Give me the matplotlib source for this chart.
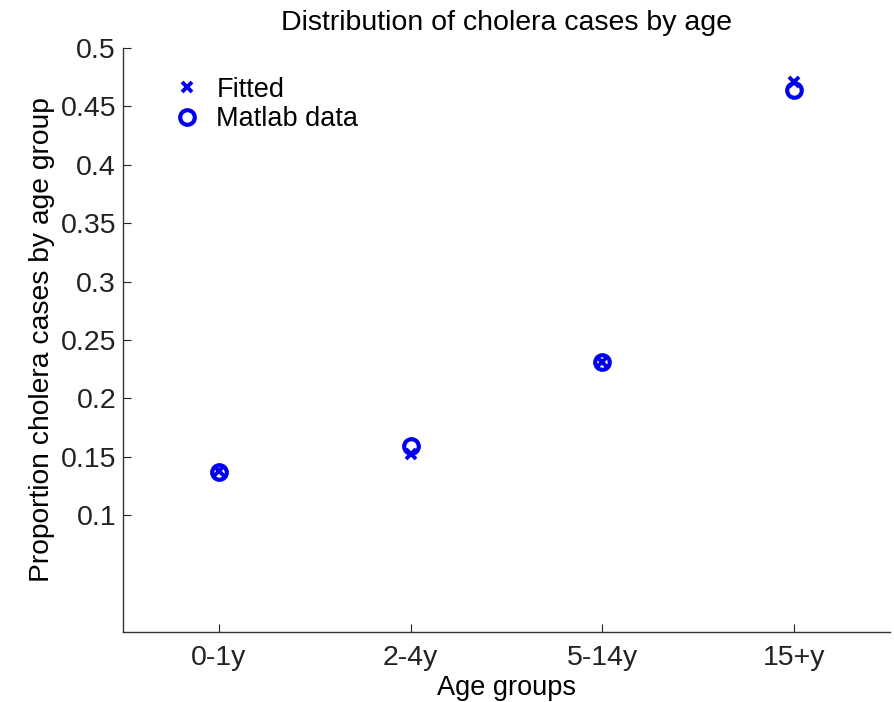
import matplotlib
matplotlib.use("Agg")
import matplotlib.pyplot as plt

plt.rcParams['font.family'] = ['Liberation Sans', 'DejaVu Sans']

categories = ['0-1y', '2-4y', '5-14y', '15+y']
fitted = [0.138, 0.152, 0.231, 0.471]
matlab_data = [0.137, 0.159, 0.231, 0.464]
yticks = [0.1, 0.15, 0.2, 0.25, 0.3, 0.35, 0.4, 0.45, 0.5]
ytick_labels = ['0.1', '0.15', '0.2', '0.25', '0.3', '0.35', '0.4', '0.45', '0.5']

fig = plt.figure(figsize=(8.94, 7.02), dpi=100)
ax = fig.add_axes([0.1376, 0.0997, 0.8579, 0.8319])

x = list(range(1, len(categories) + 1))
col = '#0000ee'
ax.plot(x, fitted, linestyle='none', marker='x', markersize=6.5, mew=2.8,
        color=col, label='Fitted')
ax.plot(x, matlab_data, linestyle='none', marker='o', markersize=10.5, mew=3.0,
        markerfacecolor='none', markeredgecolor=col, label='Matlab data')

ax.set_xlim(0.5, 4.5)
ax.set_ylim(0, 0.5)
ax.set_xticks(x)
ax.set_xticklabels(categories)
ax.set_yticks(yticks)
ax.set_yticklabels(ytick_labels)
ax.tick_params(direction='in', length=6, width=0.8, labelsize=20.5, pad=5, colors='#222222')
ax.tick_params(axis='x', pad=9)
for s in ['top', 'right']:
    ax.spines[s].set_visible(False)
for s in ['left', 'bottom']:
    ax.spines[s].set_color('#333333')
    ax.spines[s].set_linewidth(1.0)

ax.set_title('Distribution of cholera cases by age', fontsize=20.5, pad=13)
ax.set_xlabel('Age groups', fontsize=19.5, labelpad=3)
ax.set_ylabel('Proportion cholera cases by age group', fontsize=20.3, labelpad=4)

leg = ax.legend(loc='upper left', frameon=False, fontsize=19.5, handlelength=1.0,
                handletextpad=0.6, borderaxespad=0.6, labelspacing=0.12,
                bbox_to_anchor=(0.03, 0.997))

fig.savefig('out.png', dpi=100)
